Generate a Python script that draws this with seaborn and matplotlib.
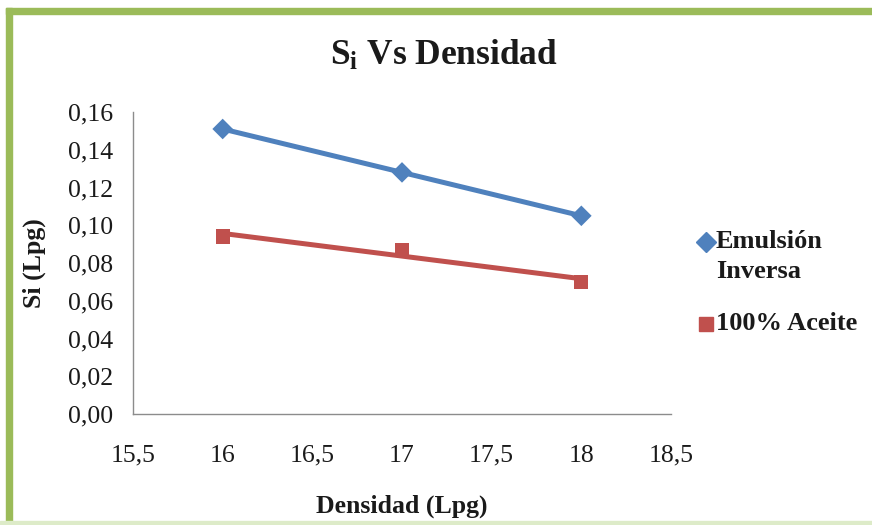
import matplotlib
matplotlib.use("Agg")
import matplotlib.pyplot as plt
from matplotlib.patches import Rectangle
from matplotlib.ticker import FuncFormatter, MultipleLocator
from matplotlib.lines import Line2D
import seaborn as sns
import pandas as pd

# Densidad (Lpg) and Si (Lpg) for each fluid
densidad = [16, 17, 18]
si_emulsion = [0.151, 0.128, 0.105]
si_aceite = [0.094, 0.087, 0.070]
series_names = ["Emulsión\nInversa", "100% Aceite"]
colors = ["#4F81BD", "#C0504D"]
markers = ["D", "s"]

sns.set_theme(style="white")
plt.rcParams["font.family"] = ["Liberation Serif", "DejaVu Serif"]
plt.rcParams["mathtext.fontset"] = "custom"
plt.rcParams["mathtext.rm"] = "Liberation Serif"
plt.rcParams["mathtext.bf"] = "Liberation Serif:bold"

TEXT = "#1a1a1a"
W, H = 872, 525
fig = plt.figure(figsize=(W / 100, H / 100), dpi=100)
ax = fig.add_axes([133 / W, 1 - 414 / H, (671 - 133) / W, (414 - 112) / H])

for vals, col, mk in zip([si_emulsion, si_aceite], colors, markers):
    df = pd.DataFrame({"x": densidad, "y": vals})
    # linear trend line through the measured points
    sns.regplot(data=df, x="x", y="y", ci=None, scatter=False, ax=ax,
                color=col, line_kws={"linewidth": 3.6, "solid_capstyle": "butt"})
    sns.scatterplot(data=df, x="x", y="y", ax=ax, color=col, marker=mk,
                    s=110 if mk == "D" else 105, edgecolor="none", zorder=3)

ax.set_xlim(15.5, 18.5)
ax.set_ylim(0, 0.16)
ax.xaxis.set_major_locator(MultipleLocator(0.5))
ax.yaxis.set_major_locator(MultipleLocator(0.02))
ax.xaxis.set_major_formatter(FuncFormatter(lambda v, p: f"{v:g}".replace(".", ",")))
ax.yaxis.set_major_formatter(FuncFormatter(lambda v, p: f"{v:.2f}".replace(".", ",")))
ax.tick_params(axis="both", labelsize=18.5, colors=TEXT, length=0)
ax.tick_params(axis="y", pad=14)
ax.tick_params(axis="x", pad=22)

for side in ["top", "right"]:
    ax.spines[side].set_visible(False)
for side in ["left", "bottom"]:
    ax.spines[side].set_color("#8c8c8c")
    ax.spines[side].set_linewidth(1.0)

ax.set_xlabel("Densidad (Lpg)", fontsize=18.5, fontweight="bold", labelpad=20,
              color=TEXT)
ax.set_ylabel("Si (Lpg)", fontsize=18.5, fontweight="bold", labelpad=16,
              color=TEXT)

fig.text(444 / W, 1 - 56 / H, r"$\mathbf{S_i}$ Vs Densidad", fontsize=25.5,
         fontweight="bold", ha="center", va="center", color=TEXT)

# Legend: marker beside the first line of each entry
legend_y = [242, 324]
for yc, name, col, mk in zip(legend_y, series_names, colors, markers):
    fig.add_artist(Line2D([706 / W], [1 - yc / H], transform=fig.transFigure,
                          linestyle="none", marker=mk, color=col,
                          markersize=10.5 if mk == "D" else 9.5))
    for i, line in enumerate(name.split("\n")):
        fig.text(716 / W, 1 - (yc + 30 * i) / H, line, fontsize=19,
                 fontweight="bold", ha="left", va="center", color=TEXT)

# Green frame around the chart
fig.patches.append(Rectangle((6 / W, 0), 6 / W, 1 - 8 / H, transform=fig.transFigure,
                             color="#9BBB59", zorder=0))
fig.patches.append(Rectangle((6 / W, 1 - 14 / H), 1, 6 / H, transform=fig.transFigure,
                             color="#9BBB59", zorder=0))
fig.patches.append(Rectangle((0, 1 / H), 1, 3 / H, transform=fig.transFigure,
                             color="#DDEBC8", zorder=0))

fig.savefig("out.png", dpi=100)
